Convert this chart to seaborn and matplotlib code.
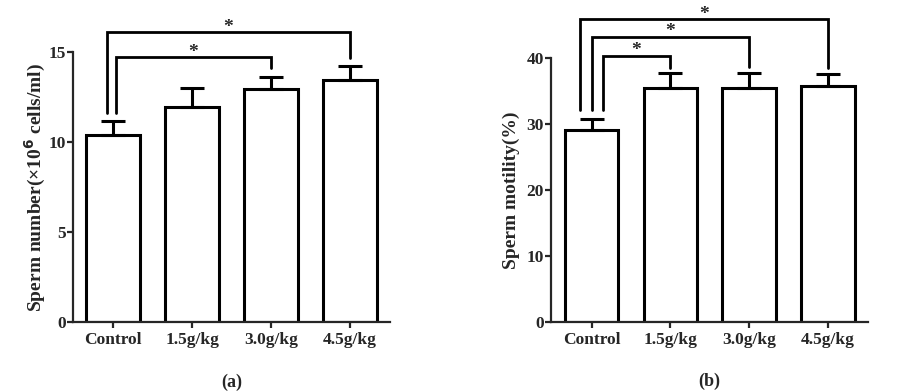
import seaborn as sns
import matplotlib.pyplot as plt
import pandas

groups = ['Control', '1.5g/kg', '3.0g/kg', '4.5g/kg']

# panel (a): sperm number
number_mean = [10.4, 11.95, 12.95, 13.45]
number_err = [0.8, 1.05, 0.7, 0.8]
# comparisons: (group a, group b, bracket height, left leg end, right leg end, left offset)
number_sig = [(0, 3, 16.1, 11.6, 14.7, -0.08), (0, 2, 14.72, 11.6, 14.1, 0.03)]

# panel (b): sperm motility
motility_mean = [29.15, 35.55, 35.45, 35.8]
motility_err = [1.6, 2.25, 2.25, 1.8]
motility_sig = [(0, 3, 45.9, 32.2, 38.5, -0.15), (0, 2, 43.3, 32.2, 38.7, 0.0),
                (0, 1, 40.4, 32.2, 38.5, 0.14)]

sns.set_style('ticks')
plt.rcParams['font.family'] = ['Liberation Serif', 'DejaVu Serif']
plt.rcParams['font.weight'] = 'bold'

fig = plt.figure(figsize=(9.03, 3.92), dpi=100)
ax_a = fig.add_axes([0.0805, 0.1778, 0.3514, 0.6888])
ax_b = fig.add_axes([0.6102, 0.1778, 0.3510, 0.6735])

panels = [
    (ax_a, number_mean, number_err, number_sig, 15, [0, 5, 10, 15],
     'Sperm number(×10$^{\\mathbf{6}}$ cells/ml)', '(a)', 0),
    (ax_b, motility_mean, motility_err, motility_sig, 40, [0, 10, 20, 30, 40],
     'Sperm motility(%)', '(b)', 5),
]

for ax, means, errs, sigs, ytop, yticks, ylabel, tag, lpad in panels:
    df = pandas.DataFrame({'group': groups, 'value': means})
    sns.barplot(data=df, x='group', y='value', ax=ax, color='white',
                edgecolor='black', linewidth=2.2, width=0.68, saturation=1)
    ax.errorbar(range(len(groups)), means, yerr=[[0] * len(errs), errs],
                fmt='none', ecolor='black', elinewidth=2.2, capsize=8.5, capthick=2.2)

    # significance brackets
    for g1, g2, h, leg1, leg2, off in sigs:
        x1 = g1 + off
        ax.plot([x1, x1, g2, g2], [leg1, h, h, leg2], color='black', lw=2,
                clip_on=False, solid_joinstyle='miter')
        ax.annotate('*', xy=((x1 + g2) / 2, h), xytext=(0, 0.5),
                    textcoords='offset points', ha='center', va='baseline',
                    fontsize=14, fontweight='bold', annotation_clip=False)

    ax.set_xlim(-0.515, 3.51)
    ax.set_ylim(0, ytop)
    ax.set_yticks(yticks)
    sns.despine(ax=ax)
    for s in ['left', 'bottom']:
        ax.spines[s].set_linewidth(1.6)
    ax.tick_params(axis='y', length=4, width=1.6, labelsize=12.5, pad=1)
    ax.tick_params(axis='x', length=4, width=1.6, labelsize=12.5, pad=3)
    for lab in ax.get_xticklabels() + ax.get_yticklabels():
        lab.set_fontweight('bold')
    ax.set_xlabel('')
    ax.set_ylabel(ylabel, fontsize=14, fontweight='bold', labelpad=lpad)
    ax.text(0.5, -0.19, tag, transform=ax.transAxes, ha='center', va='top',
            fontsize=13, fontweight='bold')

fig.savefig('out.png', dpi=100)
